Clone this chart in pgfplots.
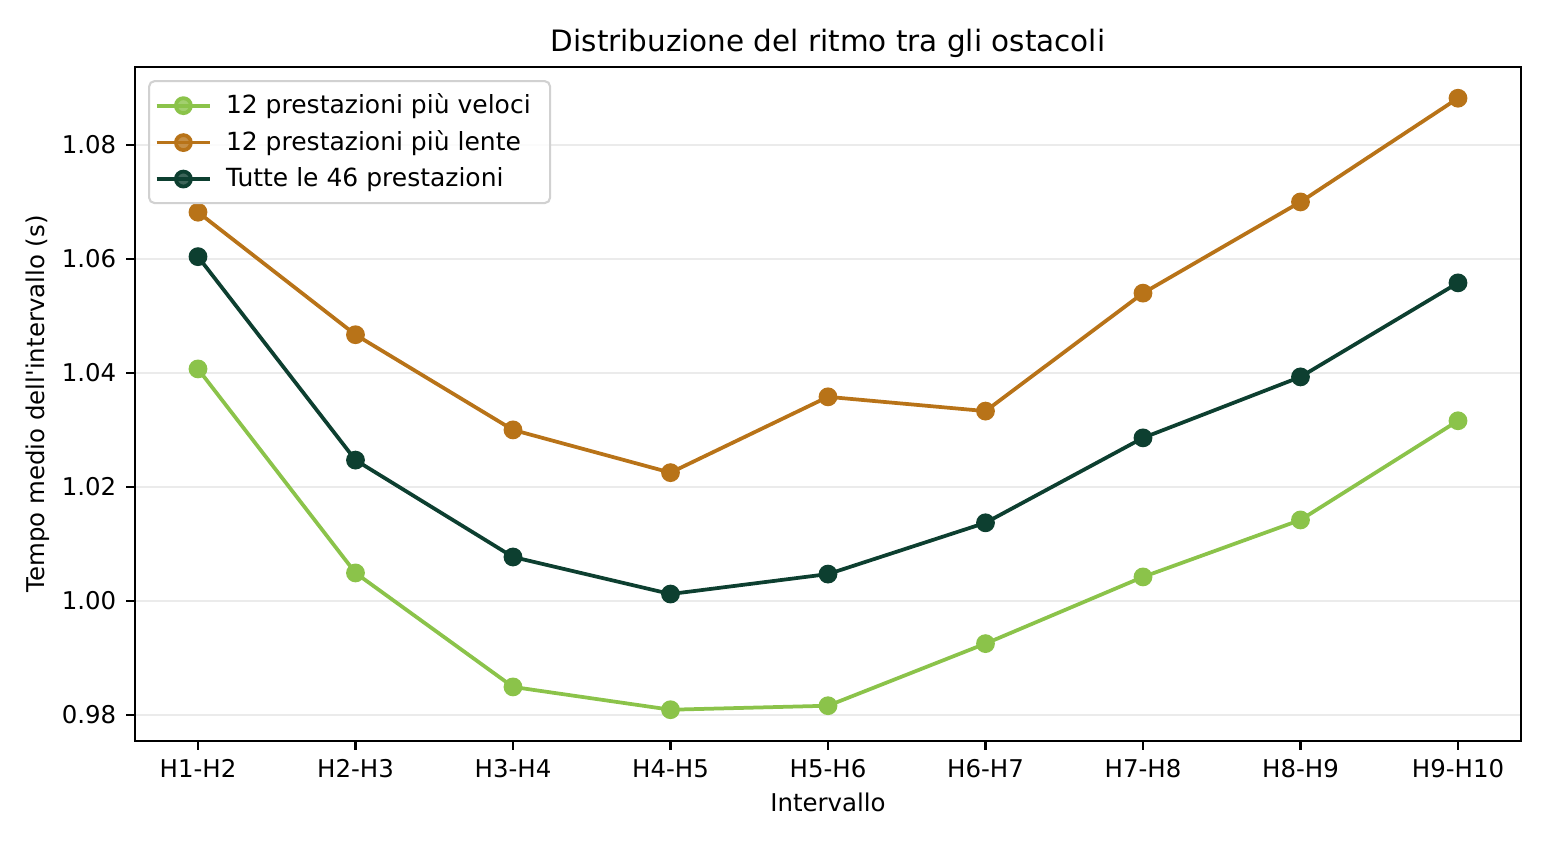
\documentclass[border=0pt]{standalone}
\usepackage{pgfplots}
\pgfplotsset{compat=1.18}
\usepackage{fontspec}
\setmainfont{DejaVu Sans}[Ligatures=TeXOff]
\definecolor{cfast}{HTML}{8BC34A}
\definecolor{cslow}{HTML}{B87318}
\definecolor{call}{HTML}{0D3F30}
\begin{document}
\begin{tikzpicture}
\begin{axis}[
  name=ax,
  scale only axis,
  width=499pt, height=242.6pt,
  xmin=-0.4, xmax=8.4,
  ymin=0.97544, ymax=1.09368,
  xtick={0,...,8},
  xticklabels={H1-H2,H2-H3,H3-H4,H4-H5,H5-H6,H6-H7,H7-H8,H8-H9,H9-H10},
  ytick={0.98,1.00,1.02,1.04,1.06,1.08},
  yticklabel style={/pgf/number format/.cd, fixed, fixed zerofill, precision=2, assume math mode=true},
  /pgf/number format/assume math mode=true,
  tick align=outside,
  tick pos=left,
  major tick length=3.2pt,
  every tick/.style={black, line width=0.75pt},
  axis line style={line width=0.75pt},
  ymajorgrids,
  grid style={line width=0.55pt, color=black!8},
  tick label style={font=\fontsize{8.8}{10.5}\selectfont},
  label style={font=\fontsize{8.8}{10.5}\selectfont},
  xlabel={Intervallo},
  xlabel style={yshift=1.5pt},
  ylabel={Tempo medio dell'intervallo (s)},
  ylabel style={yshift=-2.5pt},
  title={Distribuzione del ritmo tra gli ostacoli},
  title style={font=\fontsize{10.6}{12.5}\selectfont, yshift=-6pt},
  legend cell align=left,
  legend image code/.code={
    \draw[mark repeat=2,mark phase=2] plot coordinates {(0cm,0cm) (0.34cm,0cm) (0.68cm,0cm)};
  },
  legend style={font=\fontsize{9}{10.8}\selectfont, draw=black!18, rounded corners=2pt, line width=0.75pt, fill=white, fill opacity=0.8, text opacity=1, at={(0,1)}, anchor=north west, xshift=4.7pt, yshift=-4.7pt, row sep=0.6pt, inner xsep=2pt, inner ysep=2.5pt, nodes={inner xsep=5pt}},
  every axis plot/.append style={line width=1.35pt, mark=*, mark size=2.7pt},
]
\addplot[color=cfast, mark options={fill=cfast, draw=cfast}] coordinates {
(0,1.0407) (1,1.0049) (2,0.9849) (3,0.9809) (4,0.9816) (5,0.9925) (6,1.0042) (7,1.0142) (8,1.0316)};
\addlegendentry{12 prestazioni più veloci}
\addplot[color=cslow, mark options={fill=cslow, draw=cslow}] coordinates {
(0,1.0682) (1,1.0467) (2,1.0300) (3,1.0225) (4,1.0358) (5,1.0333) (6,1.0540) (7,1.0700) (8,1.0882)};
\addlegendentry{12 prestazioni più lente}
\addplot[color=call, mark options={fill=call, draw=call}] coordinates {
(0,1.0604) (1,1.0247) (2,1.0077) (3,1.0012) (4,1.0047) (5,1.0137) (6,1.0286) (7,1.0393) (8,1.0558)};
\addlegendentry{Tutte le 46 prestazioni}
\end{axis}
\pgfresetboundingbox
\path ([shift={(-48.6pt,-37.8pt)}]ax.south west) rectangle ([shift={(9.72pt,24.12pt)}]ax.north east);
\end{tikzpicture}
\end{document}
